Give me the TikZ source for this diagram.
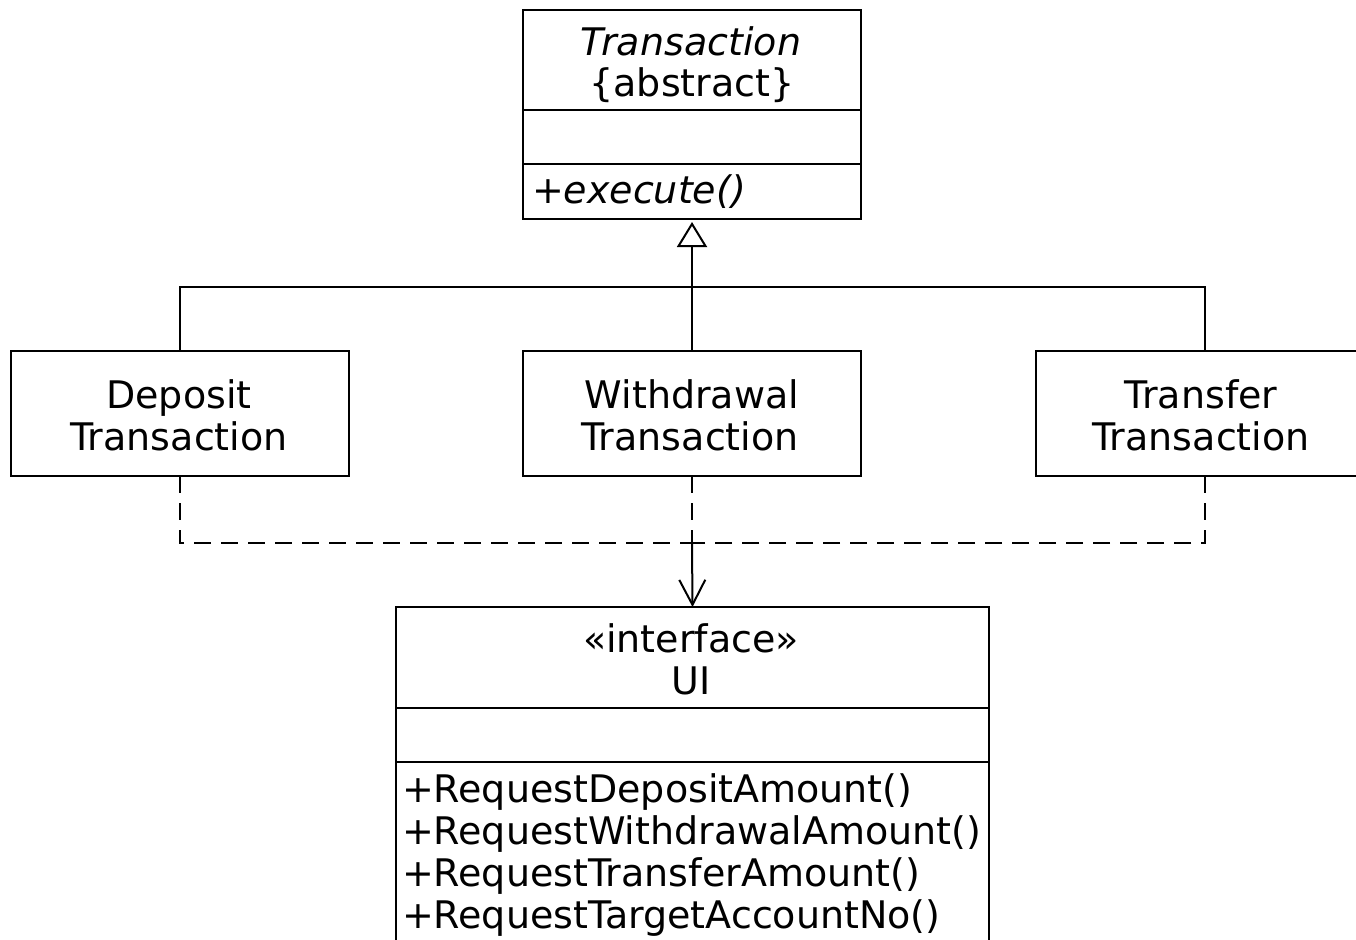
\documentclass[tikz,border=0pt]{standalone}
\usepackage{fontspec}
\setmainfont{DejaVu Sans}
\usetikzlibrary{arrows.meta}
\begin{document}
\begin{tikzpicture}[x=1pt,y=-1pt,
  every node/.style={inner sep=0pt, outer sep=0pt},
  cls/.style={draw=black, line width=2pt, rectangle, minimum width=338pt},
  txt/.style={font=\fontsize{38}{42}\selectfont, anchor=base},
  ltxt/.style={font=\fontsize{38}{42}\selectfont, anchor=base west},
  conn/.style={draw=black, line width=2pt},
  dep/.style={conn, dash pattern=on 17pt off 10pt},
]
\useasboundingbox (0,0) rectangle (1356,939);

% Transaction class
\node[cls, minimum height=209pt] (trans) at (692,114.5) {};
\draw[conn] ([yshift=-100.5pt]trans.north west) -- ([yshift=-100.5pt]trans.north east);
\draw[conn] ([yshift=-154pt]trans.north west) -- ([yshift=-154pt]trans.north east);
\node[txt] (tname) at (691,56) {\itshape Transaction};
\node[txt] (tabs) at (692,97) {\{abstract\}};
\node[ltxt] (texe) at (532,203) {\itshape +execute()};

% Subclasses
\node[cls, minimum height=125pt] (deposit) at (180,413.5) {};
\node[txt] (dep1) at (179,408) {Deposit};
\node[txt] (dep2) at (179,450) {Transaction};

\node[cls, minimum height=125pt] (withdraw) at (692,413.5) {};
\node[txt] (wd1) at (692,408) {Withdrawal};
\node[txt] (wd2) at (690,450) {Transaction};

\node[cls, minimum height=125pt] (transfer) at (1205,413.5) {};
\node[txt] (tf1) at (1201,408) {Transfer};
\node[txt] (tf2) at (1201,450) {Transaction};

% UI interface
\node[cls, minimum width=593pt, minimum height=353pt] (ui) at (692.5,783.5) {};
\draw[conn] ([yshift=-101pt]ui.north west) -- ([yshift=-101pt]ui.north east);
\draw[conn] ([yshift=-154.5pt]ui.north west) -- ([yshift=-154.5pt]ui.north east);
\node[txt] (uist) at (691,652) {«interface»};
\node[txt] (uiname) at (691,694) {UI};
\node[ltxt] (m1) at (402,802) {+RequestDepositAmount()};
\node[ltxt] (m2) at (402,844) {+RequestWithdrawalAmount()};
\node[ltxt] (m3) at (402,886) {+RequestTransferAmount()};
\node[ltxt] (m4) at (402,928) {+RequestTargetAccountNo()};

% Generalization
\coordinate (hub) at (692,287);
\draw[conn] (deposit.north) |- (hub);
\draw[conn] (transfer.north) |- (hub);
\draw[conn, -{Triangle[open, length=25pt, width=30pt]}, shorten >=3pt] (withdraw.north) -- (trans.south);

% Dependencies
\coordinate (dhub) at (692,543);
\draw[dep] (deposit.south) |- (dhub);
\draw[dep] (transfer.south) |- (dhub);
\draw[dep] (withdraw.south) -- (dhub);
\draw[conn, -{Straight Barb[length=25pt, width=26pt]}] (dhub) -- (ui.north);
\end{tikzpicture}
\end{document}
